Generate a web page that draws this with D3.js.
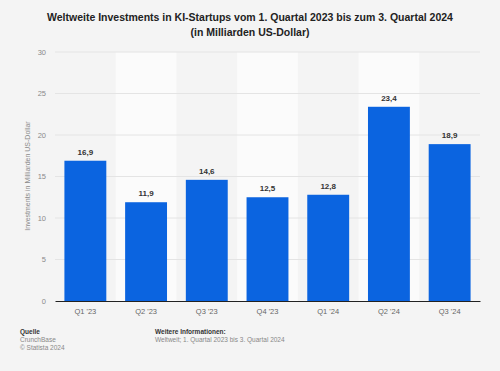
<!DOCTYPE html>
<html><head><meta charset="utf-8">
<script src="https://cdn.jsdelivr.net/npm/d3@7"></script>
<style>body{margin:0;background:#f4f4f4;}svg{display:block;font-family:"Liberation Sans",Arial,sans-serif;}</style>
</head><body>
<script>
const categories = ["Q1 '23","Q2 '23","Q3 '23","Q4 '23","Q1 '24","Q2 '24","Q3 '24"];
const values = [16.9, 11.9, 14.6, 12.5, 12.8, 23.4, 18.9];
const yTicks = [0,5,10,15,20,25,30];
const titleLines = ["Weltweite Investments in KI-Startups vom 1. Quartal 2023 bis zum 3. Quartal 2024","(in Milliarden US-Dollar)"];

const W=500,H=371;
const svg=d3.select("body").append("svg").attr("width",W).attr("height",H);
svg.append("rect").attr("width",W).attr("height",H).attr("fill","#f4f4f4");

const x=d3.scaleBand().domain(categories).range([55,480]).paddingInner(0.31).paddingOuter(0.155);
const y=d3.scaleLinear().domain([0,30]).range([301,52]);

// alternating stripes
const step=x.step();
categories.forEach((c,i)=>{
  if(i%2===1){
    svg.append("rect").attr("x",x(c)-step*x.paddingInner()/2).attr("y",y(30)).attr("width",step).attr("height",y(0)-y(30)).attr("fill","#fbfbfb");
  }
});

// grid
svg.append("g").selectAll("line").data(yTicks.filter(t=>t>0)).join("line")
  .attr("x1",55).attr("x2",480).attr("y1",d=>y(d)).attr("y2",d=>y(d))
  .attr("stroke","#e4e4e4").attr("stroke-width",1);

// y axis labels
const ya=svg.append("g").attr("transform","translate(46,0)").call(d3.axisLeft(y).tickValues(yTicks).tickSize(0).tickPadding(0));
ya.select(".domain").remove();
ya.selectAll("text").attr("fill","#8a8a8a").attr("font-size","7.5px").attr("font-family","Liberation Sans, Arial, sans-serif");

// bars
svg.append("g").selectAll("rect").data(values).join("rect")
  .attr("x",(d,i)=>x(categories[i])).attr("width",x.bandwidth())
  .attr("y",d=>y(d)).attr("height",d=>y(0)-y(d)).attr("fill","#0b64e0");

// value labels
svg.append("g").selectAll("text").data(values).join("text")
  .attr("x",(d,i)=>x(categories[i])+x.bandwidth()/2).attr("y",d=>y(d)-6)
  .attr("text-anchor","middle").attr("font-size","8px").attr("font-weight","bold").attr("fill","#333")
  .text(d=>d3.format(".1f")(d).replace(".",","));

// x axis
const xa=svg.append("g").attr("transform","translate(0,301)").call(d3.axisBottom(x).tickSize(0).tickPadding(8));
xa.select(".domain").attr("stroke","#222").attr("stroke-width",1);
xa.selectAll("text").attr("fill","#666").attr("font-size","7.5px").attr("font-family","Liberation Sans, Arial, sans-serif");

// y title
svg.append("text").attr("transform","translate(30,176) rotate(-90)").attr("text-anchor","middle")
  .attr("font-size","7px").attr("fill","#8a8a8a").text("Investments in Milliarden US-Dollar");

// title
svg.append("g").selectAll("text").data(titleLines).join("text")
  .attr("x",250).attr("y",(d,i)=>21+i*15).attr("text-anchor","middle")
  .attr("font-size","10.5px").attr("font-weight","bold").attr("fill","#222").text(d=>d);

// footer
const f=svg.append("g").attr("font-size","6.5px");
f.append("text").attr("x",20).attr("y",334).attr("fill","#333").attr("font-weight","bold").text("Quelle");
f.append("text").attr("x",20).attr("y",342).attr("fill","#888").text("CrunchBase");
f.append("text").attr("x",20).attr("y",350).attr("fill","#888").text("© Statista 2024");
f.append("text").attr("x",155).attr("y",334).attr("fill","#333").attr("font-weight","bold").text("Weitere Informationen:");
f.append("text").attr("x",155).attr("y",342).attr("fill","#888").text("Weltweit; 1. Quartal 2023 bis 3. Quartal 2024");
</script>
</body></html>
